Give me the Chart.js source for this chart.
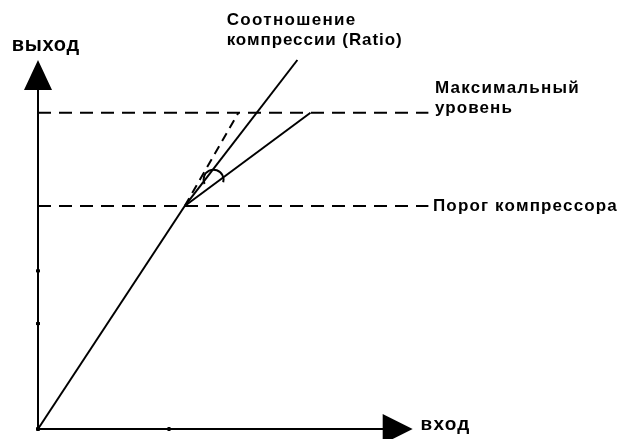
<!DOCTYPE html>
<html><head><meta charset="utf-8">
<script src="https://cdn.jsdelivr.net/npm/chart.js@4"></script>
<style>html,body{margin:0;padding:0;background:#fff;overflow:hidden}#wrap{width:621px;height:439px;position:relative}</style>
</head><body><div id="wrap"><canvas id="c" width="621" height="439"></canvas></div>
<script>
// ---- data (abstract level units) ----
const inputX = [0, 11.2];          // linear region below threshold
const inputY = [0, 42.3];
const ratioX = [11.2, 19.8];       // steep solid line above the knee
const ratioY = [42.3, 70];
const compressedX = [11.2, 20.8];  // compressed output above threshold
const compressedY = [42.3, 60];
const unityX = [11.2, 15.3];       // dashed uncompressed continuation
const unityY = [42.3, 60];
const levelValues = [42.3, 60];    // threshold, maximum level
const levelX = [0, 29.8];          // extent of the dashed level lines
const xTickValues = [0, 10];
const yTickValues = [0, 20, 30];
const axisEnd = [28.6, 70];        // arrow tips (x, y)
const arcCenter = [13.4, 47.3];
const axisTitles = ['выход', 'вход'];
const ratioLabel = ['Соотношение', 'компрессии (Ratio)'];
const maxLabel = ['Максимальный', 'уровень'];
const thresholdLabel = ['Порог компрессора'];

// ---- layout of text (data coords of baseline-left, target width) ----
const textLayout = [
  {t: axisTitles[0], x: -2.0, y: 71.7, w: 68, s: 20},
  {t: axisTitles[1], x: 29.2, y: -0.2, w: 50, s: 19},
  {t: ratioLabel[0], x: 14.4, y: 76.7, w: 130, s: 17},
  {t: ratioLabel[1], x: 14.4, y: 72.9, w: 176, s: 17},
  {t: maxLabel[0], x: 30.3, y: 63.8, w: 145, s: 17},
  {t: maxLabel[1], x: 30.3, y: 60.0, w: 78, s: 17},
  {t: thresholdLabel[0], x: 30.15, y: 41.4, w: 185, s: 17}
];

const pts = (xs, ys) => xs.map((x, i) => ({x, y: ys[i]}));
const seg = (data, dash) => ({data, showLine: true, borderColor: '#000', borderWidth: 2,
  pointRadius: 0, fill: false, clip: false, borderDash: dash || []});

const datasets = [
  seg(pts(inputX, inputY)),
  seg(pts(ratioX, ratioY)),
  seg(pts(compressedX, compressedY)),
  seg(pts(unityX, unityY), [9, 6]),
  ...levelValues.map(v => seg(pts(levelX, levelX.map(() => v)), [13, 8]))
];

const decor = {
  id: 'decor',
  afterDatasetsDraw(chart) {
    const {ctx, scales: {x, y}} = chart;
    const px = v => x.getPixelForValue(v), py = v => y.getPixelForValue(v);
    const ox = px(0), oy = py(0);
    const tx = px(axisEnd[0]), ty = py(axisEnd[1]);
    ctx.save();
    ctx.strokeStyle = '#000'; ctx.fillStyle = '#000'; ctx.lineWidth = 2;
    // axes
    ctx.beginPath();
    ctx.moveTo(ox, oy); ctx.lineTo(ox, ty + 28);
    ctx.moveTo(ox, oy); ctx.lineTo(tx - 28, oy);
    ctx.stroke();
    // arrowheads
    ctx.beginPath();
    ctx.moveTo(ox, ty); ctx.lineTo(ox - 14, ty + 30); ctx.lineTo(ox + 14, ty + 30); ctx.closePath();
    ctx.fill();
    ctx.beginPath();
    ctx.moveTo(tx, oy); ctx.lineTo(tx - 30, oy - 15); ctx.lineTo(tx - 30, oy + 15); ctx.closePath();
    ctx.fill();
    // tick dots
    yTickValues.forEach(v => ctx.fillRect(ox - 2, py(v) - 1.5, 4, 3));
    xTickValues.forEach(v => ctx.fillRect(px(v) - 1.5, oy - 2, 3, 4));
    // ratio arc
    ctx.lineWidth = 2;
    ctx.beginPath();
    ctx.arc(px(arcCenter[0]), py(arcCenter[1]), 10, Math.PI - 0.45, 2 * Math.PI + 0.25);
    ctx.stroke();
    // texts
    ctx.textBaseline = 'alphabetic'; ctx.textAlign = 'left';
    textLayout.forEach(o => {
      ctx.font = 'bold ' + o.s + 'px "Liberation Sans", Arial, sans-serif';
      if ('letterSpacing' in ctx) ctx.letterSpacing = '0px';
      const m = ctx.measureText(o.t).width;
      if ('letterSpacing' in ctx) ctx.letterSpacing = Math.max(0, (o.w - m) / o.t.length) + 'px';
      ctx.fillText(o.t, px(o.x), py(o.y));
    });
    ctx.restore();
  }
};

new Chart(document.getElementById('c'), {
  type: 'scatter',
  data: {datasets},
  options: {
    responsive: false, animation: false, devicePixelRatio: 1,
    layout: {padding: {left: 38, top: 60, right: 190, bottom: 10}},
    scales: {
      x: {type: 'linear', min: 0, max: 30, display: false},
      y: {type: 'linear', min: 0, max: 70, display: false}
    },
    plugins: {legend: {display: false}, tooltip: {enabled: false}}
  },
  plugins: [decor]
});
</script></body></html>
